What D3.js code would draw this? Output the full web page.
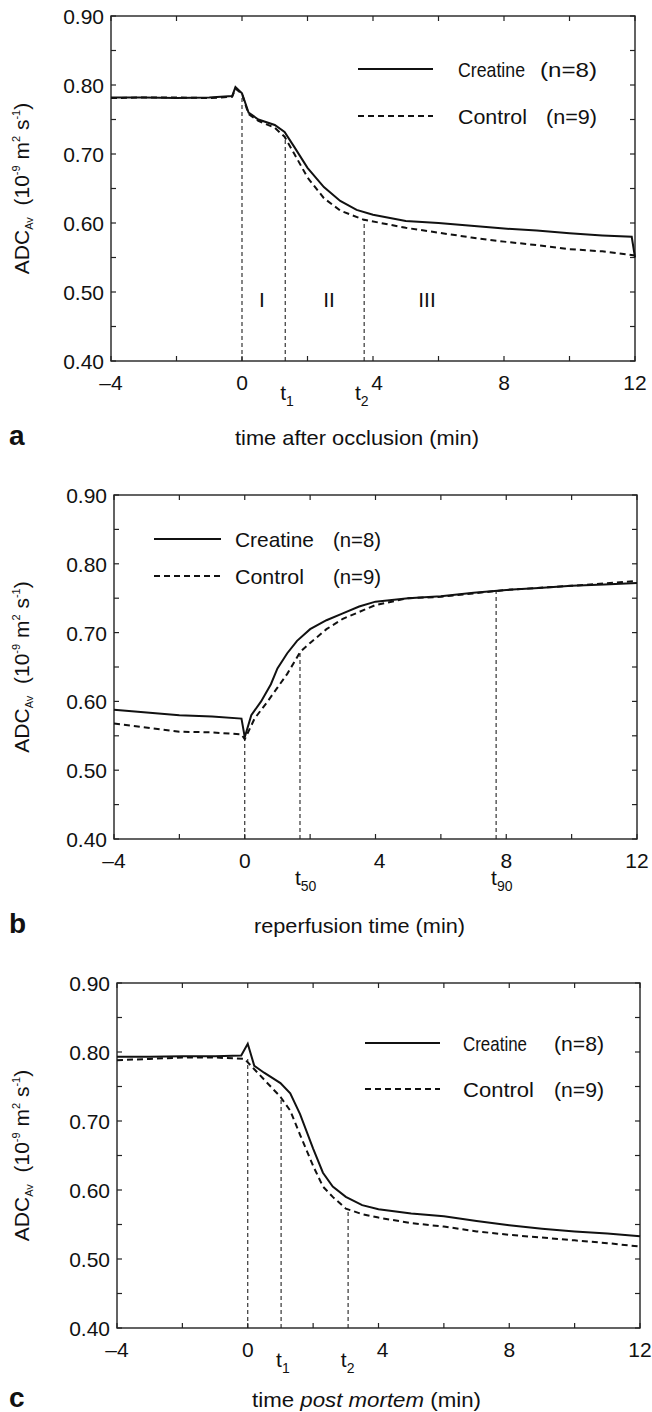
<!DOCTYPE html>
<html><head><meta charset="utf-8">
<script src="https://cdn.jsdelivr.net/npm/d3@7"></script>
<style>body{margin:0;background:#fff}text{font-family:"Liberation Sans",Arial,sans-serif;fill:#111}</style>
</head><body><svg id="c" width="652" height="1412"></svg>
<script>
// panel a: occlusion
const aCreT = [-4,-3,-2,-1,-0.3,-0.2,0,0.2,0.5,1,1.3,1.6,2,2.5,3,3.5,4,5,6,7,8,9,10,11,11.9,12];
const aCreV = [0.782,0.782,0.781,0.782,0.784,0.797,0.788,0.76,0.75,0.742,0.732,0.71,0.68,0.652,0.632,0.619,0.612,0.603,0.600,0.596,0.592,0.589,0.585,0.582,0.580,0.550];
const aConT = [-4,-3,-2,-1,-0.3,-0.2,0,0.2,0.5,1,1.3,1.6,2,2.5,3,3.7,5,6,7,8,9,10,11,12];
const aConV = [0.781,0.782,0.782,0.781,0.783,0.795,0.787,0.758,0.748,0.738,0.725,0.70,0.666,0.636,0.618,0.605,0.593,0.586,0.579,0.573,0.568,0.562,0.559,0.553];
const aMarks = [[0,0.787],[1.32,0.725],[3.73,0.605]];
// panel b: reperfusion
const bCreT = [-4,-2,-1,-0.1,0,0.2,0.5,0.8,1,1.3,1.6,2,2.5,3,3.5,4,5,6,7,8,9,10,11,12];
const bCreV = [0.588,0.580,0.578,0.575,0.548,0.58,0.60,0.625,0.648,0.670,0.688,0.705,0.718,0.728,0.738,0.745,0.750,0.753,0.758,0.762,0.765,0.768,0.770,0.772];
const bConT = [-4,-2,-1,-0.1,0,0.3,0.7,1,1.3,1.7,2,2.5,3,4,5,6,7,8,10,12];
const bConV = [0.568,0.556,0.555,0.552,0.545,0.575,0.60,0.62,0.64,0.672,0.685,0.705,0.72,0.740,0.750,0.752,0.757,0.762,0.768,0.775];
const bMarks = [[0,0.545],[1.69,0.672],[7.69,0.762]];
// panel c: post mortem
const cCreT = [-4,-3,-2,-1,-0.2,0,0.2,0.5,1,1.3,1.6,2,2.3,2.6,3,3.5,4,5,6,7,8,9,10,11,12];
const cCreV = [0.793,0.793,0.794,0.794,0.795,0.812,0.78,0.770,0.755,0.740,0.71,0.66,0.625,0.605,0.590,0.578,0.572,0.566,0.562,0.555,0.549,0.544,0.540,0.537,0.533];
const cConT = [-4,-3,-2,-1,-0.1,0.2,0.5,1,1.3,1.6,2,2.3,2.6,3,3.5,4,5,6,7,8,9,10,11,12];
const cConV = [0.788,0.790,0.792,0.792,0.790,0.775,0.760,0.735,0.715,0.68,0.635,0.605,0.59,0.573,0.565,0.560,0.552,0.547,0.540,0.535,0.531,0.527,0.523,0.518];
const cMarks = [[0,0.79],[1.02,0.735],[3.07,0.57]];

const xTicks = [-4,0,4,8,12];
const yTicks = [0.40,0.50,0.60,0.70,0.80,0.90];

const svg = d3.select("#c");

function drawPanel(p) {
  const x = d3.scaleLinear().domain([-4,12]).range([p.l,p.r]);
  const y = d3.scaleLinear().domain([0.4,0.9]).range([p.b,p.t]);
  const g = svg.append("g");
  g.append("rect").attr("x",p.l).attr("y",p.t).attr("width",p.r-p.l).attr("height",p.b-p.t)
    .attr("fill","none").attr("stroke","#222").attr("stroke-width",1.4);
  const xMinor = d3.range(-4,12.01,2), yMinor = d3.range(0.4,0.901,0.05);
  const tk = (data, fn) => g.selectAll(null).data(data).enter().append("line").each(fn)
    .attr("stroke","#222").attr("stroke-width",1.2);
  tk(xMinor, function(d){ d3.select(this).attr("x1",x(d)).attr("x2",x(d)).attr("y1",p.b).attr("y2",p.b-5); });
  tk(xMinor, function(d){ d3.select(this).attr("x1",x(d)).attr("x2",x(d)).attr("y1",p.t).attr("y2",p.t+5); });
  tk(yMinor, function(d){ d3.select(this).attr("y1",y(d)).attr("y2",y(d)).attr("x1",p.l).attr("x2",p.l+5); });
  tk(yMinor, function(d){ d3.select(this).attr("y1",y(d)).attr("y2",y(d)).attr("x1",p.r).attr("x2",p.r-5); });
  g.selectAll(null).data(xTicks).enter().append("text").attr("x",d=>x(d)+(d===4?4:0)).attr("y",p.b+29)
    .attr("text-anchor","middle").attr("font-size",21).text(d=>d<0?"\u2013"+(-d):d);
  g.selectAll(null).data(yTicks).enter().append("text").attr("x",p.l-7).attr("y",d=>y(d)+8)
    .attr("text-anchor","end").attr("font-size",21).text(d=>d.toFixed(2));
  // y label
  const yl = g.append("text").attr("transform",`translate(29,${(p.t+p.b)/2}) rotate(-90)`)
    .attr("text-anchor","middle").attr("font-size",21);
  yl.append("tspan").text("ADC");
  yl.append("tspan").attr("font-size",11).attr("dy",4).text("Av");
  yl.append("tspan").attr("dy",-4).text("\u00a0 (10");
  yl.append("tspan").attr("font-size",11).attr("dy",-9).text("-9");
  yl.append("tspan").attr("dy",9).text("\u00a0m");
  yl.append("tspan").attr("font-size",11).attr("dy",-9).text("2");
  yl.append("tspan").attr("dy",9).text("\u00a0s");
  yl.append("tspan").attr("font-size",11).attr("dy",-9).text("-1");
  yl.append("tspan").attr("dy",9).text(")");
  // x label
  const xl = g.append("text").attr("x",p.xl[0]).attr("y",p.xl[1]).attr("font-size",21)
    .attr("textLength",p.xl[2]).attr("lengthAdjust","spacingAndGlyphs");
  p.xlab.forEach(s => xl.append("tspan").attr("font-style",s[1]?"italic":null).text(s[0]));
  g.append("text").attr("x",9).attr("y",p.xl[1]).attr("font-size",28).attr("font-weight","bold").text(p.letter);
  // vertical markers
  g.selectAll(null).data(p.marks).enter().append("line")
    .attr("x1",d=>x(d[0])).attr("x2",d=>x(d[0])).attr("y1",p.b).attr("y2",d=>y(d[1]))
    .attr("stroke","#222").attr("stroke-width",1.1).attr("stroke-dasharray","4,3");
  // curves
  const line = d3.line().x(d=>x(d[0])).y(d=>y(d[1]));
  g.append("path").datum(d3.zip(p.creT,p.creV)).attr("d",line).attr("fill","none").attr("stroke","#111").attr("stroke-width",2);
  g.append("path").datum(d3.zip(p.conT,p.conV)).attr("d",line).attr("fill","none").attr("stroke","#111").attr("stroke-width",2).attr("stroke-dasharray","6,4");
  // legend
  const L = p.leg;
  g.append("line").attr("x1",L.x1).attr("x2",L.x2).attr("y1",L.y1).attr("y2",L.y1).attr("stroke","#111").attr("stroke-width",2);
  g.append("line").attr("x1",L.x1).attr("x2",L.x2).attr("y1",L.y2).attr("y2",L.y2).attr("stroke","#111").attr("stroke-width",2).attr("stroke-dasharray","6,4");
  const lt = (tx, ty, w, s) => g.append("text").attr("x",tx).attr("y",ty+8).attr("font-size",21)
    .attr("textLength",w).attr("lengthAdjust","spacingAndGlyphs").text(s);
  lt(L.tx, L.y1, L.w[0], "Creatine");
  lt(L.nx1, L.y1, L.w[1], "(n=8)");
  lt(L.tx, L.y2, L.w[2], "Control");
  lt(L.nx2, L.y2, L.w[3], "(n=9)");
  // t annotations
  p.subs.forEach(s => {
    const t = g.append("text").attr("x",x(s[0])-5).attr("y",p.b+p.sy).attr("font-size",21);
    t.append("tspan").text("t");
    t.append("tspan").attr("font-size",14).attr("dy",6).text(s[1]);
  });
  (p.roman||[]).forEach(s => g.append("text").attr("x",x(s[0])).attr("y",y(0.49)+8).attr("text-anchor","middle").attr("font-size",21).text(s[1]));
}

drawPanel({l:111,r:635,t:16,b:361,letter:"a",xlab:[["time after occlusion (min)"]],xl:[235,445,244],
  creT:aCreT,creV:aCreV,conT:aConT,conV:aConV,marks:aMarks,sy:39,
  leg:{x1:358,x2:433,y1:69,y2:116,tx:458,nx1:540,nx2:546,w:[67,57,69,51]},
  subs:[[1.32,"1"],[3.6,"2"]],roman:[[0.61,"I"],[2.66,"II"],[5.65,"III"]]});
drawPanel({l:114,r:637,t:495,b:839,letter:"b",xlab:[["reperfusion time (min)"]],xl:[254,933,211],
  creT:bCreT,creV:bCreV,conT:bConT,conV:bConV,marks:bMarks,sy:46,
  leg:{x1:154,x2:221,y1:539,y2:576,tx:235,nx1:333,nx2:333,w:[79,48,69,48]},
  subs:[[1.69,"50"],[7.69,"90"]]});
drawPanel({l:117,r:640,t:983,b:1328,letter:"c",xlab:[["time "],["post mortem",true],[" (min)"]],xl:[252,1407,229],
  creT:cCreT,creV:cCreV,conT:cConT,conV:cConV,marks:cMarks,sy:39,
  leg:{x1:365,x2:440,y1:1043,y2:1089,tx:463,nx1:554,nx2:554,w:[64,50,71,50]},
  subs:[[1.02,"1"],[3.0,"2"]]});
</script></body></html>
